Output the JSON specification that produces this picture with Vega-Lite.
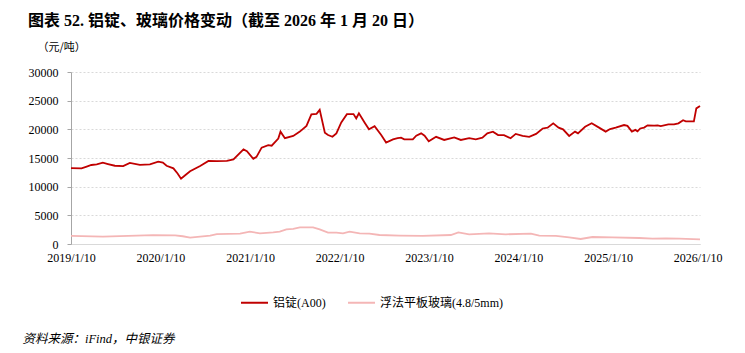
{
  "$schema": "https://vega.github.io/schema/vega-lite/v6.json",
  "width": 629,
  "height": 172,
  "autosize": {"type": "none"},
  "padding": {"left": 71, "top": 72, "right": 45, "bottom": 109},
  "background": "white",
  "title": {
    "text": "图表 52. 铝锭、玻璃价格变动（截至 2026 年 1 月 20 日）",
    "anchor": "start",
    "frame": "group",
    "dx": -43,
    "offset": 12,
    "font": "Liberation Serif, Noto Sans CJK SC",
    "fontSize": 16,
    "fontWeight": "bold",
    "color": "#000000"
  },
  "data": {
    "values": [
      {"date": "2019-01-10", "series": "铝锭(A00)", "price": 13250},
      {"date": "2019-02-22", "series": "铝锭(A00)", "price": 13200},
      {"date": "2019-03-15", "series": "铝锭(A00)", "price": 13500},
      {"date": "2019-04-03", "series": "铝锭(A00)", "price": 13780},
      {"date": "2019-04-25", "series": "铝锭(A00)", "price": 13900},
      {"date": "2019-05-20", "series": "铝锭(A00)", "price": 14180},
      {"date": "2019-06-10", "series": "铝锭(A00)", "price": 13950},
      {"date": "2019-07-08", "series": "铝锭(A00)", "price": 13650},
      {"date": "2019-08-11", "series": "铝锭(A00)", "price": 13600},
      {"date": "2019-09-07", "series": "铝锭(A00)", "price": 14150},
      {"date": "2019-10-18", "series": "铝锭(A00)", "price": 13800},
      {"date": "2019-11-28", "series": "铝锭(A00)", "price": 13900},
      {"date": "2020-01-01", "series": "铝锭(A00)", "price": 14350},
      {"date": "2020-01-20", "series": "铝锭(A00)", "price": 14200},
      {"date": "2020-02-04", "series": "铝锭(A00)", "price": 13650},
      {"date": "2020-03-03", "series": "铝锭(A00)", "price": 13200},
      {"date": "2020-03-20", "series": "铝锭(A00)", "price": 12300},
      {"date": "2020-04-03", "series": "铝锭(A00)", "price": 11400},
      {"date": "2020-04-20", "series": "铝锭(A00)", "price": 12000},
      {"date": "2020-05-10", "series": "铝锭(A00)", "price": 12700},
      {"date": "2020-06-20", "series": "铝锭(A00)", "price": 13600},
      {"date": "2020-07-24", "series": "铝锭(A00)", "price": 14500},
      {"date": "2020-08-27", "series": "铝锭(A00)", "price": 14450},
      {"date": "2020-10-07", "series": "铝锭(A00)", "price": 14500},
      {"date": "2020-11-03", "series": "铝锭(A00)", "price": 14770},
      {"date": "2020-12-14", "series": "铝锭(A00)", "price": 16500},
      {"date": "2020-12-28", "series": "铝锭(A00)", "price": 16200},
      {"date": "2021-01-23", "series": "铝锭(A00)", "price": 14850},
      {"date": "2021-02-05", "series": "铝锭(A00)", "price": 15200},
      {"date": "2021-02-26", "series": "铝锭(A00)", "price": 16800},
      {"date": "2021-03-25", "series": "铝锭(A00)", "price": 17250},
      {"date": "2021-04-08", "series": "铝锭(A00)", "price": 17150},
      {"date": "2021-05-05", "series": "铝锭(A00)", "price": 18400},
      {"date": "2021-05-14", "series": "铝锭(A00)", "price": 19600},
      {"date": "2021-06-01", "series": "铝锭(A00)", "price": 18450},
      {"date": "2021-07-05", "series": "铝锭(A00)", "price": 18850},
      {"date": "2021-08-01", "series": "铝锭(A00)", "price": 19600},
      {"date": "2021-08-28", "series": "铝锭(A00)", "price": 20600},
      {"date": "2021-09-17", "series": "铝锭(A00)", "price": 22600},
      {"date": "2021-10-08", "series": "铝锭(A00)", "price": 22700},
      {"date": "2021-10-21", "series": "铝锭(A00)", "price": 23400},
      {"date": "2021-11-11", "series": "铝锭(A00)", "price": 19400},
      {"date": "2021-11-24", "series": "铝锭(A00)", "price": 19000},
      {"date": "2021-12-12", "series": "铝锭(A00)", "price": 18700},
      {"date": "2021-12-28", "series": "铝锭(A00)", "price": 19300},
      {"date": "2022-01-17", "series": "铝锭(A00)", "price": 21200},
      {"date": "2022-02-09", "series": "铝锭(A00)", "price": 22650},
      {"date": "2022-03-08", "series": "铝锭(A00)", "price": 22650},
      {"date": "2022-03-19", "series": "铝锭(A00)", "price": 21900},
      {"date": "2022-03-30", "series": "铝锭(A00)", "price": 22800},
      {"date": "2022-04-22", "series": "铝锭(A00)", "price": 21200},
      {"date": "2022-05-10", "series": "铝锭(A00)", "price": 20000},
      {"date": "2022-06-02", "series": "铝锭(A00)", "price": 20550},
      {"date": "2022-06-29", "series": "铝锭(A00)", "price": 19000},
      {"date": "2022-07-19", "series": "铝锭(A00)", "price": 17700},
      {"date": "2022-08-16", "series": "铝锭(A00)", "price": 18250},
      {"date": "2022-09-04", "series": "铝锭(A00)", "price": 18450},
      {"date": "2022-09-18", "series": "铝锭(A00)", "price": 18550},
      {"date": "2022-10-01", "series": "铝锭(A00)", "price": 18250},
      {"date": "2022-11-05", "series": "铝锭(A00)", "price": 18250},
      {"date": "2022-11-19", "series": "铝锭(A00)", "price": 18900},
      {"date": "2022-12-09", "series": "铝锭(A00)", "price": 19300},
      {"date": "2022-12-23", "series": "铝锭(A00)", "price": 18900},
      {"date": "2023-01-09", "series": "铝锭(A00)", "price": 17900},
      {"date": "2023-02-08", "series": "铝锭(A00)", "price": 18700},
      {"date": "2023-03-13", "series": "铝锭(A00)", "price": 18150},
      {"date": "2023-04-23", "series": "铝锭(A00)", "price": 18600},
      {"date": "2023-05-20", "series": "铝锭(A00)", "price": 18150},
      {"date": "2023-06-23", "series": "铝锭(A00)", "price": 18450},
      {"date": "2023-07-20", "series": "铝锭(A00)", "price": 18250},
      {"date": "2023-08-16", "series": "铝锭(A00)", "price": 18550},
      {"date": "2023-09-05", "series": "铝锭(A00)", "price": 19300},
      {"date": "2023-09-28", "series": "铝锭(A00)", "price": 19600},
      {"date": "2023-10-19", "series": "铝锭(A00)", "price": 19000},
      {"date": "2023-11-12", "series": "铝锭(A00)", "price": 19000},
      {"date": "2023-12-09", "series": "铝锭(A00)", "price": 18450},
      {"date": "2023-12-30", "series": "铝锭(A00)", "price": 19200},
      {"date": "2024-01-27", "series": "铝锭(A00)", "price": 18850},
      {"date": "2024-02-23", "series": "铝锭(A00)", "price": 18700},
      {"date": "2024-03-22", "series": "铝锭(A00)", "price": 19200},
      {"date": "2024-04-18", "series": "铝锭(A00)", "price": 20150},
      {"date": "2024-05-08", "series": "铝锭(A00)", "price": 20300},
      {"date": "2024-05-31", "series": "铝锭(A00)", "price": 21050},
      {"date": "2024-06-22", "series": "铝锭(A00)", "price": 20300},
      {"date": "2024-07-10", "series": "铝锭(A00)", "price": 20000},
      {"date": "2024-08-04", "series": "铝锭(A00)", "price": 18850},
      {"date": "2024-08-28", "series": "铝锭(A00)", "price": 19600},
      {"date": "2024-09-09", "series": "铝锭(A00)", "price": 19300},
      {"date": "2024-10-08", "series": "铝锭(A00)", "price": 20450},
      {"date": "2024-11-04", "series": "铝锭(A00)", "price": 21050},
      {"date": "2024-12-04", "series": "铝锭(A00)", "price": 20300},
      {"date": "2024-12-31", "series": "铝锭(A00)", "price": 19600},
      {"date": "2025-01-18", "series": "铝锭(A00)", "price": 20050},
      {"date": "2025-02-10", "series": "铝锭(A00)", "price": 20300},
      {"date": "2025-03-16", "series": "铝锭(A00)", "price": 20750},
      {"date": "2025-03-30", "series": "铝锭(A00)", "price": 20600},
      {"date": "2025-04-17", "series": "铝锭(A00)", "price": 19600},
      {"date": "2025-05-01", "series": "铝锭(A00)", "price": 19900},
      {"date": "2025-05-10", "series": "铝锭(A00)", "price": 19650},
      {"date": "2025-05-21", "series": "铝锭(A00)", "price": 20150},
      {"date": "2025-06-06", "series": "铝锭(A00)", "price": 20300},
      {"date": "2025-06-20", "series": "铝锭(A00)", "price": 20700},
      {"date": "2025-07-17", "series": "铝锭(A00)", "price": 20650},
      {"date": "2025-07-31", "series": "铝锭(A00)", "price": 20700},
      {"date": "2025-08-13", "series": "铝锭(A00)", "price": 20550},
      {"date": "2025-09-13", "series": "铝锭(A00)", "price": 20850},
      {"date": "2025-10-06", "series": "铝锭(A00)", "price": 20850},
      {"date": "2025-10-24", "series": "铝锭(A00)", "price": 21050},
      {"date": "2025-11-12", "series": "铝锭(A00)", "price": 21600},
      {"date": "2025-11-23", "series": "铝锭(A00)", "price": 21400},
      {"date": "2025-12-26", "series": "铝锭(A00)", "price": 21400},
      {"date": "2026-01-05", "series": "铝锭(A00)", "price": 23650},
      {"date": "2026-01-20", "series": "铝锭(A00)", "price": 24070},
      {"date": "2019-01-10", "series": "浮法平板玻璃(4.8/5mm)", "price": 1400},
      {"date": "2019-05-20", "series": "浮法平板玻璃(4.8/5mm)", "price": 1300},
      {"date": "2019-09-01", "series": "浮法平板玻璃(4.8/5mm)", "price": 1400},
      {"date": "2019-12-11", "series": "浮法平板玻璃(4.8/5mm)", "price": 1560},
      {"date": "2020-03-10", "series": "浮法平板玻璃(4.8/5mm)", "price": 1500},
      {"date": "2020-04-10", "series": "浮法平板玻璃(4.8/5mm)", "price": 1350},
      {"date": "2020-05-10", "series": "浮法平板玻璃(4.8/5mm)", "price": 1100},
      {"date": "2020-07-31", "series": "浮法平板玻璃(4.8/5mm)", "price": 1450},
      {"date": "2020-08-27", "series": "浮法平板玻璃(4.8/5mm)", "price": 1740},
      {"date": "2020-11-30", "series": "浮法平板玻璃(4.8/5mm)", "price": 1800},
      {"date": "2021-01-09", "series": "浮法平板玻璃(4.8/5mm)", "price": 2150},
      {"date": "2021-02-19", "series": "浮法平板玻璃(4.8/5mm)", "price": 1870},
      {"date": "2021-04-14", "series": "浮法平板玻璃(4.8/5mm)", "price": 2030},
      {"date": "2021-05-11", "series": "浮法平板玻璃(4.8/5mm)", "price": 2150},
      {"date": "2021-06-07", "series": "浮法平板玻璃(4.8/5mm)", "price": 2560},
      {"date": "2021-07-05", "series": "浮法平板玻璃(4.8/5mm)", "price": 2620},
      {"date": "2021-08-01", "series": "浮法平板玻璃(4.8/5mm)", "price": 2910},
      {"date": "2021-09-24", "series": "浮法平板玻璃(4.8/5mm)", "price": 2910},
      {"date": "2021-10-21", "series": "浮法平板玻璃(4.8/5mm)", "price": 2560},
      {"date": "2021-11-24", "series": "浮法平板玻璃(4.8/5mm)", "price": 1970},
      {"date": "2021-12-28", "series": "浮法平板玻璃(4.8/5mm)", "price": 1970},
      {"date": "2022-01-24", "series": "浮法平板玻璃(4.8/5mm)", "price": 1860},
      {"date": "2022-02-20", "series": "浮法平板玻璃(4.8/5mm)", "price": 2150},
      {"date": "2022-04-02", "series": "浮法平板玻璃(4.8/5mm)", "price": 1860},
      {"date": "2022-05-12", "series": "浮法平板玻璃(4.8/5mm)", "price": 1800},
      {"date": "2022-06-22", "series": "浮法平板玻璃(4.8/5mm)", "price": 1570},
      {"date": "2022-09-12", "series": "浮法平板玻璃(4.8/5mm)", "price": 1450},
      {"date": "2022-12-15", "series": "浮法平板玻璃(4.8/5mm)", "price": 1400},
      {"date": "2023-04-09", "series": "浮法平板玻璃(4.8/5mm)", "price": 1570},
      {"date": "2023-05-10", "series": "浮法平板玻璃(4.8/5mm)", "price": 2030},
      {"date": "2023-06-23", "series": "浮法平板玻璃(4.8/5mm)", "price": 1690},
      {"date": "2023-09-12", "series": "浮法平板玻璃(4.8/5mm)", "price": 1860},
      {"date": "2023-11-19", "series": "浮法平板玻璃(4.8/5mm)", "price": 1690},
      {"date": "2024-03-01", "series": "浮法平板玻璃(4.8/5mm)", "price": 1800},
      {"date": "2024-04-04", "series": "浮法平板玻璃(4.8/5mm)", "price": 1450},
      {"date": "2024-06-11", "series": "浮法平板玻璃(4.8/5mm)", "price": 1400},
      {"date": "2024-08-04", "series": "浮法平板玻璃(4.8/5mm)", "price": 1160},
      {"date": "2024-09-20", "series": "浮法平板玻璃(4.8/5mm)", "price": 870},
      {"date": "2024-11-07", "series": "浮法平板玻璃(4.8/5mm)", "price": 1220},
      {"date": "2025-01-28", "series": "浮法平板玻璃(4.8/5mm)", "price": 1160},
      {"date": "2025-05-17", "series": "浮法平板玻璃(4.8/5mm)", "price": 1050},
      {"date": "2025-07-10", "series": "浮法平板玻璃(4.8/5mm)", "price": 930},
      {"date": "2025-09-03", "series": "浮法平板玻璃(4.8/5mm)", "price": 990},
      {"date": "2025-10-27", "series": "浮法平板玻璃(4.8/5mm)", "price": 930},
      {"date": "2026-01-20", "series": "浮法平板玻璃(4.8/5mm)", "price": 820}
    ]
  },
  "mark": {"type": "line", "strokeWidth": 1.8},
  "encoding": {
    "x": {
      "field": "date",
      "type": "temporal",
      "scale": {"domain": ["2019-01-10", "2026-01-20"]},
      "axis": {
        "values": [
          {"year": 2019, "month": 1, "date": 10},
          {"year": 2020, "month": 1, "date": 10},
          {"year": 2021, "month": 1, "date": 10},
          {"year": 2022, "month": 1, "date": 10},
          {"year": 2023, "month": 1, "date": 10},
          {"year": 2024, "month": 1, "date": 10},
          {"year": 2025, "month": 1, "date": 10},
          {"year": 2026, "month": 1, "date": 10}
        ],
        "format": "%Y/%-m/%-d",
        "grid": false,
        "ticks": false,
        "domainColor": "#d9d9d9",
        "domainWidth": 1,
        "labelFont": "Liberation Serif",
        "labelFontSize": 12,
        "labelColor": "#000000",
        "labelPadding": 8,
        "labelFlush": false,
        "labelOverlap": false,
        "title": "资料来源：iFind，中银证券",
        "titleX": -49,
        "titleY": 94,
        "titleAlign": "left",
        "titleAnchor": null,
        "titleBaseline": "middle",
        "titleFont": "Liberation Serif, Noto Sans CJK SC",
        "titleFontStyle": "italic",
        "titleFontWeight": "normal",
        "titleFontSize": 12.5,
        "titleColor": "#000000"
      }
    },
    "y": {
      "field": "price",
      "type": "quantitative",
      "scale": {"domain": [0, 30000], "nice": false},
      "axis": {
        "values": [0, 5000, 10000, 15000, 20000, 25000, 30000],
        "format": "d",
        "grid": true,
        "gridColor": "#d9d9d9",
        "gridDash": [2, 2],
        "domainColor": "#a6a6a6",
        "tickColor": "#a6a6a6",
        "tickSize": 4,
        "labelPadding": 9,
        "labelFont": "Liberation Serif",
        "labelFontSize": 12,
        "labelColor": "#000000",
        "title": "（元/吨）",
        "titleAngle": 0,
        "titleX": -34,
        "titleY": -25,
        "titleAlign": "left",
        "titleAnchor": null,
        "titleBaseline": "middle",
        "titleFont": "Noto Sans CJK SC",
        "titleFontWeight": "normal",
        "titleFontSize": 11,
        "titleColor": "#000000"
      }
    },
    "color": {
      "field": "series",
      "type": "nominal",
      "scale": {
        "domain": ["铝锭(A00)", "浮法平板玻璃(4.8/5mm)"],
        "range": ["#C00000", "#F4B6B6"]
      },
      "legend": {
        "orient": "none",
        "legendX": 169,
        "legendY": 216,
        "direction": "horizontal",
        "title": null,
        "padding": 0,
        "symbolType": "stroke",
        "symbolSize": 729,
        "symbolStrokeWidth": 2,
        "labelFont": "Liberation Serif, Noto Sans CJK SC",
        "labelFontSize": 12,
        "labelColor": "#000000",
        "labelOffset": 4,
        "columnPadding": 18,
        "labelLimit": 300
      }
    }
  },
  "config": {"view": {"stroke": null}}
}
